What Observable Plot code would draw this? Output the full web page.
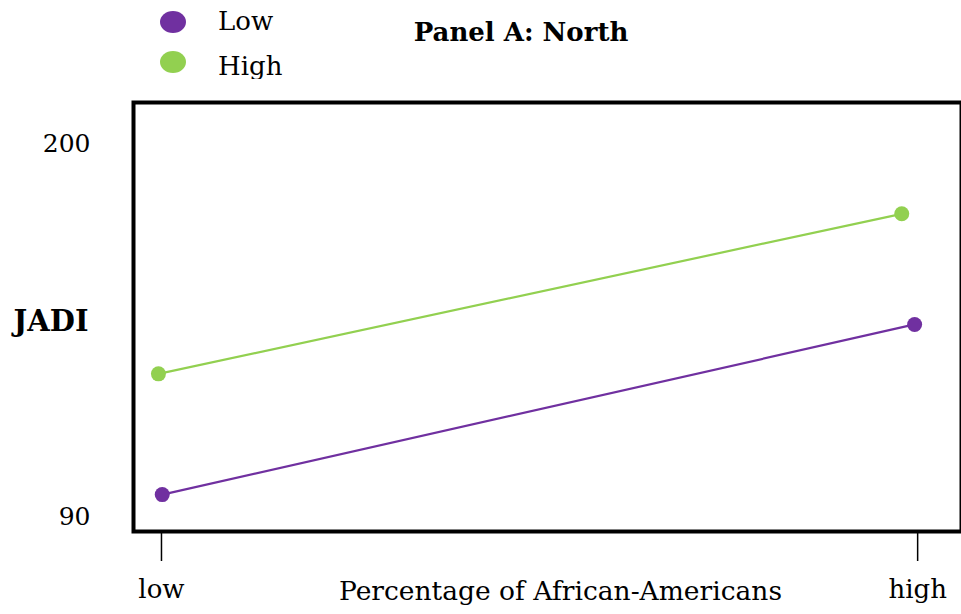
<!DOCTYPE html>
<html><head><meta charset="utf-8">
<script src="https://cdn.jsdelivr.net/npm/d3@7"></script>
<script src="https://cdn.jsdelivr.net/npm/@observablehq/plot@0.6"></script>
<style>
body{margin:0;background:#fff;}
#wrap{position:relative;width:961px;height:614px;overflow:hidden;font-family:"DejaVu Serif",serif;color:#000;}
#legend{position:absolute;left:0;top:0;width:330px;height:79px;overflow:hidden;}
.key{position:absolute;border-radius:50%;width:26px;height:22px;}
.lab{position:absolute;font-size:26px;line-height:1;}
#title{position:absolute;left:0;width:1042px;top:19px;text-align:center;font-weight:bold;font-size:26px;line-height:1;}
</style></head><body><div id="wrap"></div>
<script>
const groups = ["Low", "High"];
const colors = ["#7030A0", "#92D050"];
const xTickValues = [1, 2];
const xTickLabels = ["low", "high"];
const lowGroupX = [1.001, 1.996];
const lowGroupY = [96.5, 146.8];
const highGroupX = [0.996, 1.979];
const highGroupY = [132.2, 179.5];
const yTicks = [90, 200];
const title = "Panel A: North";
const xLabel = "Percentage of African-Americans";
const yLabel = "JADI";

const data = [
  ...lowGroupX.map((x, i) => ({group: groups[0], x, y: lowGroupY[i]})),
  ...highGroupX.map((x, i) => ({group: groups[1], x, y: highGroupY[i]}))
];

const chart = Plot.plot({
  width: 961,
  height: 614,
  marginTop: 102,
  marginLeft: 133,
  marginRight: 0,
  marginBottom: 83,
  style: {fontFamily: "DejaVu Serif", fontSize: "24px", color: "#000", background: "#fff"},
  x: {domain: [0.963, 2.058], axis: null},
  y: {domain: [85.6, 212.4], axis: null},
  color: {domain: groups, range: colors},
  marks: [
    Plot.axisY(yTicks, {tickSize: 0, tickPadding: 43, fontSize: 25, label: null}),
    Plot.axisX(xTickValues, {tickSize: 30, tickPadding: 18, strokeWidth: 1.5, fontSize: 26, label: null,
      tickFormat: d => xTickLabels[xTickValues.indexOf(d)]}),
    Plot.line(data, {x: "x", y: "y", z: "group", stroke: "group", strokeWidth: 2.2}),
    Plot.dot(data, {x: "x", y: "y", fill: "group", r: 7.5}),
    Plot.frame({stroke: "#000", strokeWidth: 4}),
    Plot.text([yLabel], {frameAnchor: "left", dx: -45, dy: 5, textAnchor: "end", fontWeight: "bold", fontSize: 29, text: d => d}),
    Plot.text([xLabel], {frameAnchor: "bottom", dx: 13, dy: 68, fontSize: 26.5, text: d => d})
  ]
});

const wrap = document.getElementById("wrap");
wrap.appendChild(chart);

const legend = document.createElement("div");
legend.id = "legend";
const keyTops = [11, 51];
const labTops = [8, 53];
groups.forEach((g, i) => {
  const k = document.createElement("div");
  k.className = "key";
  k.style.left = "160px";
  k.style.top = keyTops[i] + "px";
  k.style.background = colors[i];
  legend.appendChild(k);
  const l = document.createElement("div");
  l.className = "lab";
  l.style.left = "218px";
  l.style.top = labTops[i] + "px";
  l.textContent = g;
  legend.appendChild(l);
});
wrap.appendChild(legend);

const t = document.createElement("div");
t.id = "title";
t.textContent = title;
wrap.appendChild(t);
const svg = wrap.querySelector("svg");
svg.style.position = "absolute";
svg.style.left = "0";
svg.style.top = "0";
</script>
</body></html>
